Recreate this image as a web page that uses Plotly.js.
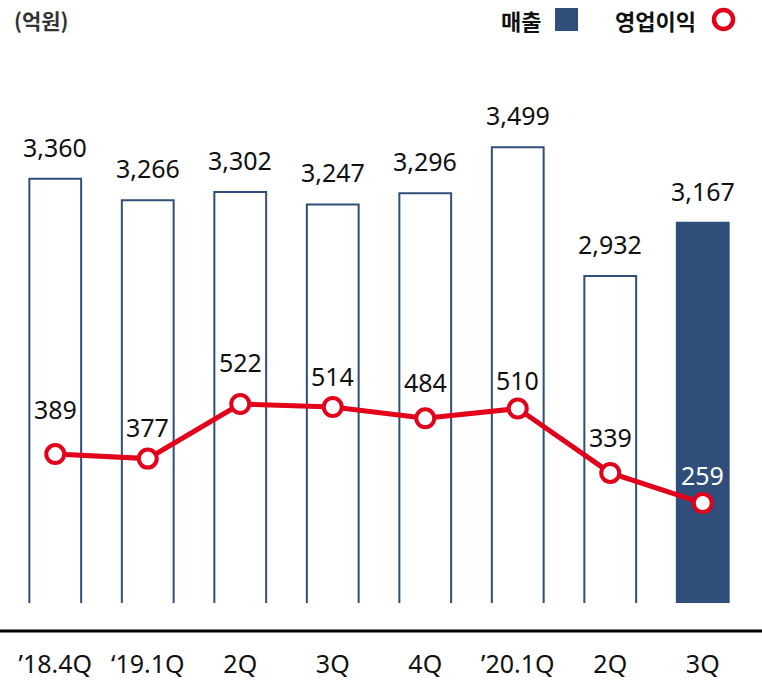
<!DOCTYPE html>
<html>
<head>
<meta charset="utf-8">
<script src="https://cdn.plot.ly/plotly-3.0.1.min.js"></script>
<style>html,body{margin:0;padding:0;background:#fff;}</style>
</head>
<body>
<div id="chart" style="width:762px;height:680px;"></div>
<script>
// Data
var categories = ["\u201918.4Q", "\u201819.1Q", "2Q", "3Q", "4Q", "\u201920.1Q", "2Q", "3Q"];
var sales = [3360, 3266, 3302, 3247, 3296, 3499, 2932, 3167];
var operatingProfit = [389, 377, 522, 514, 484, 510, 339, 259];

// Style
var navy = "#2F4E7A";
var red = "#E2001A";
var numFont = "Noto Sans, Open Sans, sans-serif";
var krFont = "Noto Sans CJK KR, sans-serif";
var profitLabelShift = [45, 32, 42, 31, 36, 29, 36, 28];

var xs = categories.map(function (_, i) { return i; });
var last = categories.length - 1;

var barTrace = {
  type: "bar",
  x: xs,
  y: sales,
  base: 0,
  marker: {
    color: xs.map(function (i) { return i === last ? navy : "#ffffff"; }),
    line: { color: navy, width: 2 }
  },
  width: 0.56,
  hoverinfo: "skip",
  yaxis: "y"
};

var lineTrace = {
  type: "scatter",
  mode: "lines+markers",
  x: xs,
  y: operatingProfit,
  line: { color: red, width: 5 },
  marker: { size: 18, color: "#ffffff", line: { color: red, width: 4 } },
  hoverinfo: "skip",
  yaxis: "y2"
};

var annotations = [];
sales.forEach(function (v, i) {
  annotations.push({
    x: i, y: v, xref: "x", yref: "y",
    text: v.toLocaleString("en-US"),
    showarrow: false, yanchor: "middle", yshift: 32,
    font: { family: numFont, size: 25, color: "#111111" }
  });
});
operatingProfit.forEach(function (v, i) {
  annotations.push({
    x: i, y: v, xref: "x", yref: "y2",
    text: String(v),
    showarrow: false, yanchor: "middle", yshift: profitLabelShift[i],
    font: { family: numFont, size: 25, color: i === last ? "#ffffff" : "#111111" }
  });
});
// Unit and legend texts
annotations.push({
  xref: "paper", yref: "paper", x: (12 - 9) / 740, y: 1 + (60 - 20) / 543,
  xanchor: "left", yanchor: "middle", showarrow: false,
  text: "<b>(억원)</b>", font: { family: krFont, size: 21, color: "#333333" }
});
annotations.push({
  xref: "paper", yref: "paper", x: (543 - 9) / 740, y: 1 + (60 - 20) / 543,
  xanchor: "right", yanchor: "middle", showarrow: false,
  text: "<b>매출</b>", font: { family: krFont, size: 22, color: "#111111" }
});
annotations.push({
  xref: "paper", yref: "paper", x: (698 - 9) / 740, y: 1 + (60 - 20) / 543,
  xanchor: "right", yanchor: "middle", showarrow: false,
  text: "<b>영업이익</b>", font: { family: krFont, size: 22, color: "#111111" }
});

function px2paperX(px) { return (px - 9) / 740; }
function px2paperY(py) { return (603 - py) / 543; }

var shapes = [
  // baseline rule
  { type: "line", xref: "paper", yref: "paper",
    x0: px2paperX(0), x1: px2paperX(762), y0: px2paperY(631), y1: px2paperY(631),
    line: { color: "#000000", width: 3 } },
  // legend square
  { type: "rect", xref: "paper", yref: "paper",
    x0: px2paperX(555), x1: px2paperX(578), y0: px2paperY(31), y1: px2paperY(8),
    fillcolor: navy, line: { width: 0 } },
  // legend circle
  { type: "circle", xref: "paper", yref: "paper",
    x0: px2paperX(714), x1: px2paperX(733), y0: px2paperY(29), y1: px2paperY(10),
    fillcolor: "#ffffff", line: { color: red, width: 4.5 } }
];

var layout = {
  width: 762, height: 680,
  margin: { l: 9, r: 13, t: 60, b: 77 },
  paper_bgcolor: "#ffffff", plot_bgcolor: "#ffffff",
  showlegend: false,
  xaxis: {
    range: [-0.5, 7.5],
    tickvals: xs, ticktext: categories,
    showgrid: false, zeroline: false, showline: false, ticks: "",
    ticklabelstandoff: 44,
    tickfont: { family: numFont, size: 25, color: "#111111" },
    fixedrange: true
  },
  yaxis: {
    range: [1495, 3882],
    visible: false, showgrid: false, zeroline: false, fixedrange: true
  },
  yaxis2: {
    range: [-6.6, 1436],
    overlaying: "y", side: "right",
    visible: false, showgrid: false, zeroline: false, fixedrange: true
  },
  annotations: annotations,
  shapes: shapes
};

Plotly.newPlot("chart", [barTrace, lineTrace], layout, { displayModeBar: false, staticPlot: true });
</script>
</body>
</html>
